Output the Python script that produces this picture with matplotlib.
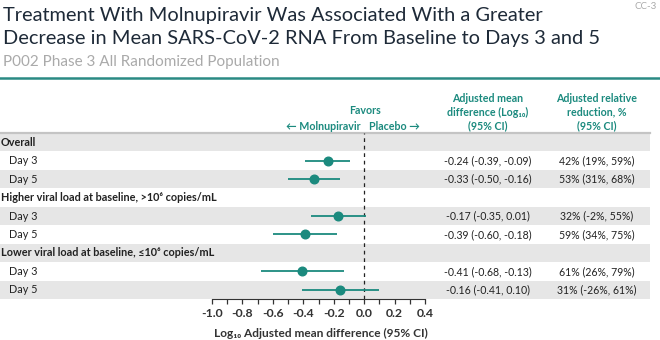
import matplotlib
matplotlib.use("Agg")
import matplotlib.pyplot as plt
from matplotlib.patches import Rectangle
from matplotlib.lines import Line2D
from matplotlib.transforms import blended_transform_factory

plt.rcParams['font.family'] = ['Lato', 'DejaVu Sans']
plt.rcParams['axes.unicode_minus'] = False

# data
row_labels = ["Overall", "Day 3", "Day 5",
              "Higher viral load at baseline, >10⁶ copies/mL", "Day 3", "Day 5",
              "Lower viral load at baseline, ≤10⁶ copies/mL", "Day 3", "Day 5"]
is_header = [True, False, False, True, False, False, True, False, False]
data_rows = [1, 2, 4, 5, 7, 8]
estimate = [-0.24, -0.33, -0.17, -0.39, -0.41, -0.16]
ci_low = [-0.39, -0.50, -0.35, -0.60, -0.68, -0.41]
ci_high = [-0.09, -0.16, 0.01, -0.18, -0.13, 0.10]
rel_reduction = ["42% (19%, 59%)", "53% (31%, 68%)", "32% (-2%, 55%)",
                 "59% (34%, 75%)", "61% (26%, 79%)", "31% (-26%, 61%)"]
xticks = [-1.0, -0.8, -0.6, -0.4, -0.2, 0.0, 0.2, 0.4]

teal = '#1b8a7e'
W, H = 660, 340

def fx(x):
    return x / W

def fy(y):
    return 1 - y / H

fig = plt.figure(figsize=(6.6, 3.4), dpi=100)

# title block
fig.text(fx(3), fy(21), "Treatment With Molnupiravir Was Associated With a Greater",
         fontsize=14.4, color='#1e2a38', va='baseline')
fig.text(fx(3), fy(44), "Decrease in Mean SARS-CoV-2 RNA From Baseline to Days 3 and 5",
         fontsize=14.4, color='#1e2a38', va='baseline')
fig.text(fx(3), fy(66), "P002 Phase 3 All Randomized Population",
         fontsize=11, color='#aaaaaa', va='baseline')
fig.text(fx(657), fy(9), "CC-3", fontsize=7, color='#aaaaaa', va='baseline',
         ha='right')
fig.add_artist(Line2D([0, 1], [fy(78), fy(78)], transform=fig.transFigure,
                      color='#2a8a84', lw=1.8))

ax = fig.add_axes([fx(212), fy(299), 213 / W, 166 / H])
ax.set_xlim(-1.0, 0.4)
ax.set_ylim(9, 0)

# alternating bands across the whole table
tr = blended_transform_factory(fig.transFigure, ax.transData)
for i in range(9):
    if i % 2 == 0:
        ax.add_patch(Rectangle((0, i), fx(650), 1, transform=tr,
                               facecolor='#e6e6e6', edgecolor='none',
                               clip_on=False, zorder=0))
ax.add_line(Line2D([0, fx(650)], [0, 0], transform=tr, color='#c4c4c4',
                   lw=1.6, clip_on=False))

ax.axvline(0, color='#222222', lw=0.9, ls=(0, (3, 3)), zorder=2)

for r, e, lo, hi in zip(data_rows, estimate, ci_low, ci_high):
    ax.plot([lo, hi], [r + 0.5, r + 0.5], color=teal, lw=1.3, zorder=3,
            solid_capstyle='butt')
    ax.plot(e, r + 0.5, 'o', color=teal, markersize=6.2, zorder=4)

for s in ['top', 'right', 'left']:
    ax.spines[s].set_visible(False)
ax.spines['bottom'].set_color('#333333')
ax.set_yticks([])
ax.set_xticks(xticks)
ax.set_xticklabels([f"{t:.1f}" for t in xticks], fontweight='bold',
                   fontsize=8.8, color='#333333')
ax.set_xticks([t + 0.1 for t in xticks[:-1]], minor=True)
ax.tick_params(axis='x', which='both', direction='out', length=3.5,
               width=0.9, color='#333333', pad=3)
ax.patch.set_alpha(0)

fig.text(fx(321), fy(333), "Log₁₀ Adjusted mean difference (95% CI)",
         fontsize=8.6, fontweight='bold', color='#333333', ha='center', va='center')

# row labels
for i, (lab, hd) in enumerate(zip(row_labels, is_header)):
    yc = 133 + (i + 0.5) * 166 / 9
    if hd:
        fig.text(fx(1), fy(yc), lab, fontsize=7.8, fontweight='bold',
                 color='#222222', va='center')
    else:
        fig.text(fx(9), fy(yc), lab, fontsize=7.8, color='#222222', va='center')

# value columns
for r, e, lo, hi, rr in zip(data_rows, estimate, ci_low, ci_high, rel_reduction):
    yc = 133 + (r + 0.5) * 166 / 9
    fig.text(fx(488), fy(yc), f"{e:.2f} ({lo:.2f}, {hi:.2f})", fontsize=7.6,
             color='#222222', ha='center', va='center')
    fig.text(fx(597), fy(yc), rr, fontsize=7.6, color='#222222',
             ha='center', va='center')

# headers
hdr = dict(fontsize=7.7, fontweight='bold', color=teal, ha='center', va='center')
fig.text(fx(365), fy(111), "Favors", **hdr)
fig.text(fx(361), fy(126), "← Molnupiravir", fontsize=7.7, fontweight='bold',
         color=teal, ha='right', va='center')
fig.text(fx(369), fy(126), "Placebo →", fontsize=7.7, fontweight='bold',
         color=teal, ha='left', va='center')
for yy, t in zip([98, 112, 126], ["Adjusted mean", "difference (Log₁₀)", "(95% CI)"]):
    fig.text(fx(488), fy(yy), t, **hdr)
for yy, t in zip([98, 112, 126], ["Adjusted relative", "reduction, %", "(95% CI)"]):
    fig.text(fx(597), fy(yy), t, **hdr)

fig.savefig("out.png", dpi=100)
